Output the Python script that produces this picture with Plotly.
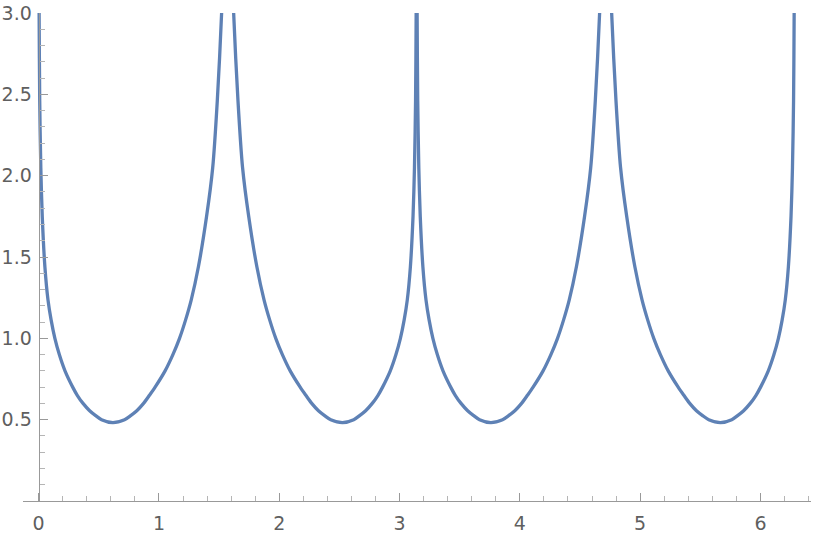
import plotly.graph_objects as go

# ==========================
# DATA
# ==========================
arch_y = [3.3, 3.0, 2.46, 2.05, 1.75, 1.44, 1.235, 1.112, 1.0, 0.9, 0.8, 0.7,
          0.65, 0.6, 0.555, 0.525, 0.5, 0.482, 0.5, 0.525, 0.555, 0.6, 0.65,
          0.7, 0.8, 0.9, 1.0, 1.112, 1.235, 1.44, 1.75, 2.05, 2.46, 3.0, 3.3]

arch1_x = [0.002, 0.004, 0.009, 0.018, 0.030, 0.052, 0.078, 0.104, 0.135, 0.172, 0.219, 0.283,
           0.321, 0.369, 0.424, 0.474, 0.523, 0.617, 0.714, 0.765, 0.816, 0.872, 0.921,
           0.968, 1.051, 1.116, 1.171, 1.221, 1.268, 1.328, 1.396, 1.447, 1.485, 1.521, 1.531]

arch2_x = [1.611, 1.621, 1.657, 1.695, 1.746, 1.814, 1.874, 1.921, 1.971, 2.026, 2.091, 2.174,
           2.221, 2.270, 2.326, 2.377, 2.428, 2.525, 2.619, 2.668, 2.718, 2.773, 2.821,
           2.859, 2.923, 2.970, 3.007, 3.038, 3.064, 3.090, 3.112, 3.124, 3.133, 3.138, 3.140]

arch3_x = [3.144, 3.146, 3.151, 3.160, 3.172, 3.194, 3.220, 3.246, 3.277, 3.314, 3.361, 3.425,
           3.463, 3.511, 3.566, 3.616, 3.665, 3.759, 3.856, 3.907, 3.958, 4.014, 4.063,
           4.110, 4.193, 4.258, 4.313, 4.363, 4.410, 4.470, 4.538, 4.589, 4.627, 4.663, 4.673]

arch4_x = [4.753, 4.763, 4.799, 4.837, 4.888, 4.956, 5.016, 5.063, 5.113, 5.168, 5.233, 5.316,
           5.363, 5.412, 5.468, 5.519, 5.570, 5.667, 5.761, 5.810, 5.860, 5.915, 5.963,
           6.001, 6.065, 6.112, 6.149, 6.180, 6.206, 6.232, 6.254, 6.266, 6.275, 6.280, 6.282]

x_ticks = [0, 1, 2, 3, 4, 5, 6]
y_ticks = [0.5, 1.0, 1.5, 2.0, 2.5, 3.0]

x_range = [-0.13, 6.42]
y_range = [0, 3.0]

line_color = '#5e81b5'
axis_color = '#999999'
minor_color = '#b5b5b5'
text_color = '#5f5f5f'

# ==========================
# FIGURE
# ==========================
fig = go.Figure()

for xs in [arch1_x, arch2_x, arch3_x, arch4_x]:
    fig.add_trace(go.Scatter(
        x=xs, y=arch_y, mode='lines', showlegend=False, hoverinfo='skip',
        line=dict(color=line_color, width=3.3, shape='spline', smoothing=0.8)
    ))

# y axis sits at x = 0, inside the x range
y_pos = (0 - x_range[0]) / (x_range[1] - x_range[0])

fig.update_xaxes(
    range=x_range, showgrid=False, zeroline=False,
    showline=True, linecolor=axis_color, linewidth=1,
    tickvals=x_ticks, ticks='inside', ticklen=8, tickcolor=axis_color,
    minor=dict(dtick=0.2, tick0=0, ticks='inside', ticklen=5, tickcolor=minor_color),
    tickfont=dict(family='DejaVu Sans', size=19, color=text_color),
    ticklabelstandoff=5,
    automargin=False
)

fig.update_yaxes(
    range=y_range, showgrid=False, zeroline=False,
    anchor='free', position=y_pos,
    showline=True, linecolor=axis_color, linewidth=1,
    tickvals=y_ticks, tickformat='.1f', ticks='inside', ticklen=8, tickcolor=axis_color,
    minor=dict(dtick=0.1, tick0=0, ticks='inside', ticklen=5, tickcolor=minor_color),
    tickfont=dict(family='DejaVu Sans', size=19, color=text_color),
    ticklabelstandoff=3,
    automargin=False
)

fig.update_layout(
    template='none',
    width=814, height=540,
    margin=dict(l=23, r=3, t=13, b=39),
    plot_bgcolor='white',
    paper_bgcolor='white',
    showlegend=False
)

# drop the browser's default body margin so the figure starts at the page corner
fig.write_html("out.html", config={'displayModeBar': False},
               post_script="document.body.style.margin = '0';")
